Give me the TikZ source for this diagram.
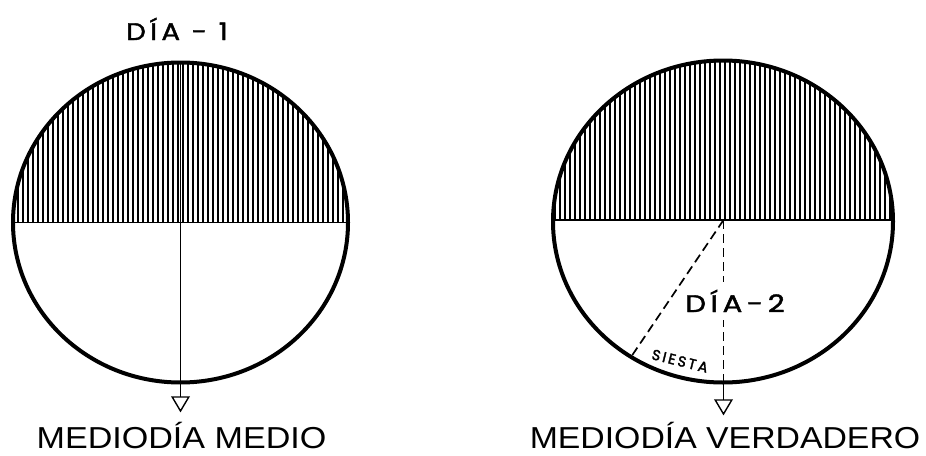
\documentclass[tikz,border=0pt]{standalone}
\usepackage{fontspec}
\setmainfont{Liberation Sans}
\newfontfamily\lett[LetterSpace=16,FakeBold=1.6]{Poppins}
\newfontfamily\lettsm[LetterSpace=16,FakeBold=2.2]{Poppins}
\begin{document}
\begin{tikzpicture}[x=1pt,y=-1pt,
  rim/.style={line width=4pt},
  hatchline/.style={line width=1.5pt},
  midline/.style={line width=1.5pt},
  dashline/.style={line width=1.7pt,dash pattern=on 9pt off 5pt},
  tip/.style={line width=1.4pt,fill=white,line join=miter},
  bigtext/.style={font=\fontsize{30.3}{32}\selectfont,anchor=base,inner sep=0pt},
  lettext/.style={font=\lett\fontsize{24}{25}\selectfont,anchor=base,inner sep=1pt},
  smalltext/.style={font=\lettsm\fontsize{14.5}{15}\selectfont,inner sep=0pt}]
\useasboundingbox (0,0) rectangle (926,455);
% ---------- left circle ----------
\coordinate (c1) at (180.5,222.5);
\begin{scope}
  \clip (c1) ellipse [x radius=167.5pt, y radius=160pt];
  \clip (10,40) rectangle (352,222.5);
  \foreach \i in {0,...,68} {
    \draw[hatchline] ({13+5*\i},40) -- ({13+5*\i},230);
  }
\end{scope}
\draw[midline] (13,222.5) -- (348,222.5);
\coordinate (t1) at (180.5,62.5);
\coordinate (a1) at (180.5,397);
\draw[midline] (t1) -- (a1);
\draw[rim] (c1) ellipse [x radius=167.5pt, y radius=160pt];
\draw[tip] (a1) -- ++(8.3,0) -- ++(-8.3,14) -- ++(-8.3,-14) -- cycle;
\node[lettext] (d1) at (177,40) {\scalebox{1.15}[1]{DÍA - 1}};
\node[bigtext] (m1) at (181.5,448) {\scalebox{1.125}[1]{MEDIODÍA MEDIO}};
% ---------- right circle ----------
\coordinate (c2) at (723,221.5);
\begin{scope}
  \clip (c2) ellipse [x radius=170pt, y radius=161pt];
  \clip (550,40) rectangle (896,220);
  \foreach \i in {0,...,69} {
    \draw[hatchline] ({555+5*\i},40) -- ({555+5*\i},230);
  }
\end{scope}
\draw[midline] (553,220) -- (893,220);
\coordinate (o2) at (723.5,220);
\coordinate (b2) at (723.5,382.5);
\coordinate (s2) at (631,357);
\coordinate (a2) at (723.5,400);
\draw[dashline] (o2) -- (s2);
\draw[dashline] (o2) -- (b2);
\draw[midline] (b2) -- (a2);
\draw[rim] (c2) ellipse [x radius=170pt, y radius=161pt];
\draw[tip] (a2) -- ++(8.3,0) -- ++(-8.3,14) -- ++(-8.3,-14) -- cycle;
\node[lettext,fill=white,inner xsep=1pt,inner ysep=8pt] (d2) at (735,312) {\scalebox{1.22}[1]{DÍA-2}};
\node[smalltext,rotate=-14] (si) at (680,361) {SIESTA};
\node[bigtext] (m2) at (725,448) {\scalebox{1.115}[1]{MEDIODÍA VERDADERO}};
\end{tikzpicture}
\end{document}
